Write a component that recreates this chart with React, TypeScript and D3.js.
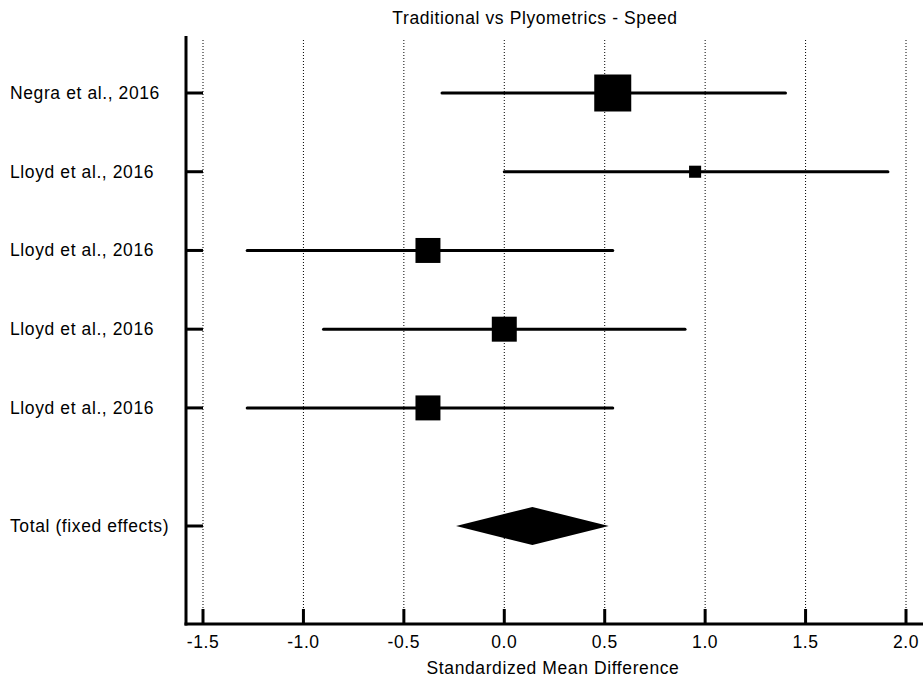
import React from "react";
import * as d3 from "d3";

const studies = ["Negra et al., 2016", "Lloyd et al., 2016", "Lloyd et al., 2016", "Lloyd et al., 2016", "Lloyd et al., 2016"];
const estimates = [0.54, 0.95, -0.38, 0.0, -0.38];
const lowerCI = [-0.31, 0.0, -1.28, -0.9, -1.28];
const upperCI = [1.4, 1.91, 0.54, 0.9, 0.54];
const weights = [40.4, 4.3, 18.4, 18.4, 18.4];
const totalLabel = "Total (fixed effects)";
const totalEstimate = 0.14;
const totalLower = -0.24;
const totalUpper = 0.52;
const xTicks = [-1.5, -1.0, -0.5, 0.0, 0.5, 1.0, 1.5, 2.0];
const title = "Traditional vs Plyometrics - Speed";
const xLabel = "Standardized Mean Difference";

export default function App() {
  const W = 923, H = 679;
  const axisX = 186;
  const axisTop = 36;
  const axisBottom = 624;
  const x = d3.scaleLinear().domain([-1.5, 2.0]).range([203, 906]);
  const y = d3.scaleLinear().domain([0, 5.5]).range([93, 526]);
  const side = d3.scaleSqrt().domain([0, d3.max(weights) as number]).range([0, 37]);
  const font = "'Liberation Sans', Arial, sans-serif";
  const fs = 17.5;
  const ls = 0.6;
  const rows = studies.map((s, i) => ({ s, i }));
  const totalY = y(5.5);
  const dh = 19;
  const diamond = [
    [x(totalLower), totalY],
    [x(totalEstimate), totalY - dh],
    [x(totalUpper), totalY],
    [x(totalEstimate), totalY + dh],
  ];
  return (
    <svg width={W} height={H} style={{ position: "absolute", left: 0, top: 0, background: "#fff" }}>
      <rect width={W} height={H} fill="#fff" />
      {xTicks.map((t) => (
        <line key={"g" + t} x1={x(t)} x2={x(t)} y1={40} y2={axisBottom} stroke="#000" strokeWidth={1} strokeDasharray="1,2" />
      ))}
      <line x1={axisX} x2={axisX} y1={axisTop} y2={axisBottom + 1.5} stroke="#000" strokeWidth={3} />
      <line x1={axisX - 1.5} x2={W} y1={axisBottom} y2={axisBottom} stroke="#000" strokeWidth={3} />
      {xTicks.map((t) => (
        <g key={"t" + t}>
          <line x1={x(t)} x2={x(t)} y1={axisBottom - 15} y2={axisBottom} stroke="#000" strokeWidth={3} />
          <text x={x(t)} y={648} textAnchor="middle" fontFamily={font} fontSize={fs} letterSpacing={ls} fill="#000">
            {t.toFixed(1)}
          </text>
        </g>
      ))}
      {rows.map(({ s, i }) => (
        <g key={"r" + i}>
          <line x1={axisX} x2={203} y1={y(i)} y2={y(i)} stroke="#000" strokeWidth={3} />
          <text x={10} y={y(i) + 6} fontFamily={font} fontSize={fs} letterSpacing={ls} fill="#000">{s}</text>
        </g>
      ))}
      <line x1={axisX} x2={203} y1={totalY} y2={totalY} stroke="#000" strokeWidth={3} />
      <text x={10} y={totalY + 6} fontFamily={font} fontSize={fs} letterSpacing={ls} fill="#000">{totalLabel}</text>
      {rows.map(({ i }) => {
        const sd = side(weights[i]);
        return (
          <g key={"m" + i}>
            <line x1={x(lowerCI[i])} x2={x(upperCI[i])} y1={y(i)} y2={y(i)} stroke="#000" strokeWidth={3} strokeLinecap="round" />
            <rect x={x(estimates[i]) - sd / 2} y={y(i) - sd / 2} width={sd} height={sd} fill="#000" />
          </g>
        );
      })}
      <polygon points={diamond.map((p) => p.join(",")).join(" ")} fill="#000" />
      <text x={535} y={24} textAnchor="middle" fontFamily={font} fontSize={fs} letterSpacing={ls} fill="#000">{title}</text>
      <text x={553} y={674} textAnchor="middle" fontFamily={font} fontSize={fs} letterSpacing={ls} fill="#000">{xLabel}</text>
    </svg>
  );
}
